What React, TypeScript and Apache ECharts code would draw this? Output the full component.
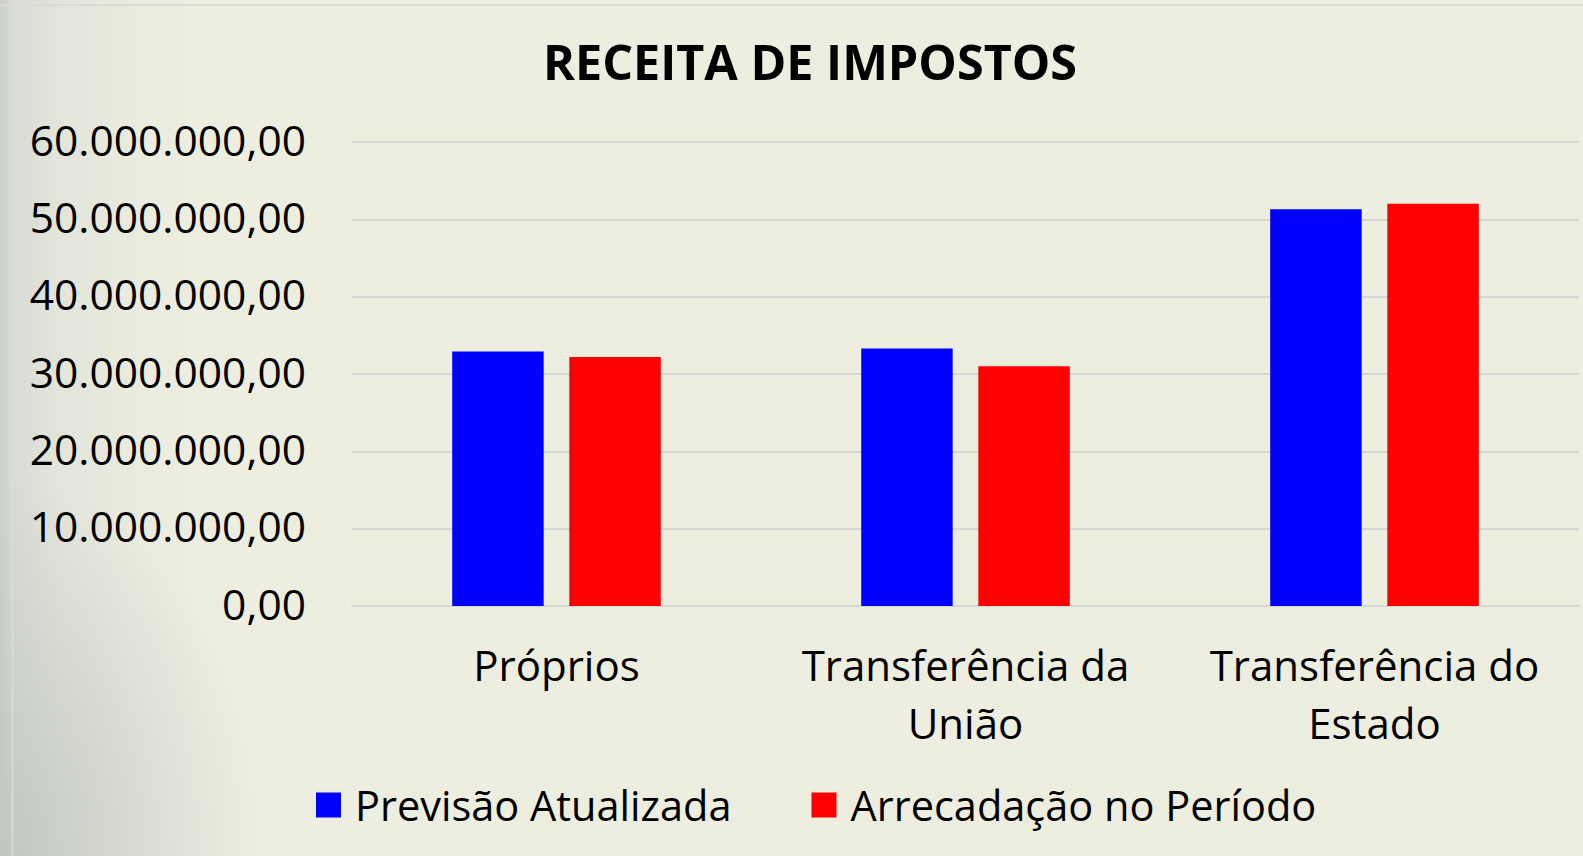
import React, { useEffect, useRef } from "react";
import * as echarts from "echarts";

const categories = ["Próprios", "Transferência da União", "Transferência do Estado"];
const seriesNames = ["Previsão Atualizada", "Arrecadação no Período"];
const previsao = [32900000, 33300000, 51300000];
const arrecadacao = [32200000, 31000000, 52000000];
const yTicks = [0, 10000000, 20000000, 30000000, 40000000, 50000000, 60000000];
const title = "RECEITA DE IMPOSTOS";

const FONT = "'Open Sans', 'Noto Sans', sans-serif";

function fmtBR(v: number): string {
  const fixed = v.toFixed(2);
  const [intPart, dec] = fixed.split(".");
  const withDots = intPart.replace(/\B(?=(\d{3})+(?!\d))/g, ".");
  return withDots + "," + dec;
}

function wrapLabel(s: string): string {
  const i = s.lastIndexOf(" ");
  if (s.length > 12 && i > 0) return s.slice(0, i) + "\n" + s.slice(i + 1);
  return s;
}

export default function App() {
  const ref = useRef<HTMLDivElement>(null);
  useEffect(() => {
    if (!ref.current) return;
    const chart = echarts.init(ref.current, null, { renderer: "svg" });
    chart.setOption({
      animation: false,
      backgroundColor: "transparent",
      title: {
        text: title,
        left: 805,
        top: 31,
        textAlign: "center",
        textStyle: { fontFamily: FONT, fontSize: 48.5, fontWeight: "bold", color: "#000" },
      },
      graphic: [
        { type: "line", shape: { x1: 0, y1: 5, x2: 1583, y2: 5 }, style: { stroke: "#DADAD6", lineWidth: 2 } },
        { type: "line", shape: { x1: 12.5, y1: 5, x2: 12.5, y2: 856 }, style: { stroke: "#DADAD6", lineWidth: 2 } },
      ],
      legend: {
        data: seriesNames,
        left: 311,
        top: 779,
        icon: "rect",
        itemWidth: 25,
        itemHeight: 25,
        itemGap: 80,
        textStyle: { fontFamily: FONT, fontSize: 41.5, color: "#000", lineHeight: 42, padding: [0, 0, 0, 9] },
      },
      grid: { left: 352, right: 4, top: 142, bottom: 250, containLabel: false },
      xAxis: {
        type: "category",
        data: categories,
        axisTick: { show: false },
        axisLine: { show: true, lineStyle: { color: "#D6D6D2", width: 2 } },
        axisLabel: {
          fontFamily: FONT,
          fontSize: 42,
          color: "#000",
          lineHeight: 58,
          margin: 29,
          interval: 0,
          formatter: (v: string) => wrapLabel(v),
        },
      },
      yAxis: {
        type: "value",
        min: 0,
        max: 60000000,
        interval: 10000000,
        axisLine: { show: false },
        axisTick: { show: false },
        splitLine: { lineStyle: { color: "#D6D6D2", width: 2 } },
        axisLabel: {
          fontFamily: FONT,
          fontSize: 42.5,
          color: "#000",
          margin: 46,
          verticalAlign: "bottom",
          lineHeight: 6,
          formatter: (v: number) => (yTicks.includes(v) ? fmtBR(v) : ""),
        },
      },
      series: [
        {
          name: seriesNames[0],
          type: "bar",
          data: previsao,
          itemStyle: { color: "#0000FF" },
          barGap: "28%",
          barCategoryGap: "49%",
        },
        {
          name: seriesNames[1],
          type: "bar",
          data: arrecadacao,
          itemStyle: { color: "#FF0000" },
          barGap: "28%",
          barCategoryGap: "49%",
        },
      ],
    });
    return () => chart.dispose();
  }, []);
  return (
    <div
      style={{
        position: "fixed",
        left: 0,
        top: 0,
        width: 1583,
        height: 856,
        background:
          "radial-gradient(ellipse 260px 380px at 0% 100%, rgba(190,196,190,0.85), rgba(190,196,190,0) 100%), linear-gradient(to right, #CBD0CB 0px, #D8DBD4 12px, #E3E5DA 60px, #EAEADE 130px, #EDEDE0 200px)",
      }}
    >
      <div ref={ref} style={{ width: 1583, height: 856 }} />
    </div>
  );
}
